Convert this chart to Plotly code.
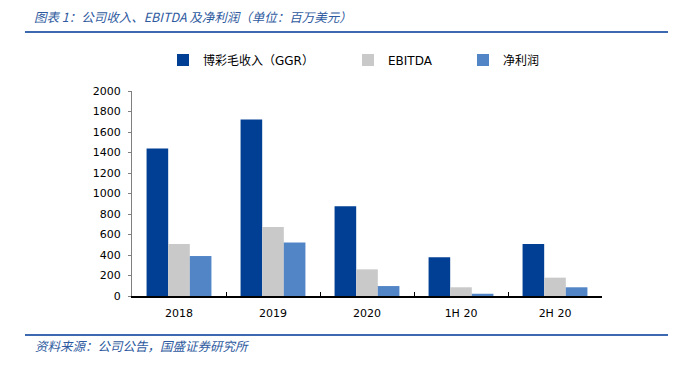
import plotly.graph_objects as go

categories = ["2018", "2019", "2020", "1H 20", "2H 20"]
ggr = [1439, 1722, 875, 378, 507]
ebitda = [507, 673, 260, 85, 179]
net_profit = [390, 522, 97, 22, 85]

series_names = ["博彩毛收入（GGR）", "EBITDA", "净利润"]
colors = ["#003F94", "#C9C9C9", "#5185C6"]

FONT = "DejaVu Sans, Noto Sans CJK SC, sans-serif"
CJK = "Noto Sans CJK SC, sans-serif"

# page offset of the plot div inside the browser window
OFF = 8
# plot area in screen pixels
L, R, T, B = 132, 602, 91, 296
W, H = 697, 373
def px(x):
    return (x - L) / (R - L)
def py(y):
    return (B - y) / (B - T)

fig = go.Figure()
for i, (name, vals, col) in enumerate(zip(series_names, [ggr, ebitda, net_profit], colors)):
    fig.add_trace(go.Bar(
        x=categories, y=vals, name=name, marker=dict(color=col, line=dict(width=0)),
        legend=["legend", "legend2", "legend3"][i],
    ))

leg_common = dict(orientation="h", yanchor="middle", xanchor="left",
                  font=dict(family=FONT, size=12, color="#000000"),
                  bgcolor="rgba(0,0,0,0)", itemwidth=30, y=py(60))

fig.update_layout(
    width=W, height=H,
    margin=dict(l=L - OFF, r=W - R + OFF, t=T - OFF, b=H - B + OFF, pad=0),
    paper_bgcolor="white", plot_bgcolor="white",
    barmode="group", bargap=0.31, bargroupgap=0,
    showlegend=True,
    legend=dict(**leg_common, x=px(163)),
    legend2=dict(**leg_common, x=px(348)),
    legend3=dict(**leg_common, x=px(463)),
    xaxis=dict(
        type="category", showline=True, linecolor="#000000", linewidth=1.5,
        ticks="inside", tickson="boundaries", ticklen=4, tickcolor="#000000",
        tickfont=dict(family=FONT, size=11, color="#000000"),
        ticklabelstandoff=6,
        showgrid=False, zeroline=False, range=[-0.5, 4.5],
    ),
    yaxis=dict(
        range=[0, 2000], dtick=200, showline=True, linecolor="#7f7f7f", linewidth=1,
        ticks="outside", ticklen=3, tickcolor="#7f7f7f",
        tickfont=dict(family=FONT, size=11, color="#000000"),
        ticklabelstandoff=5,
        showgrid=False, zeroline=False,
    ),
    shapes=[
        dict(type="line", xref="paper", yref="paper", x0=px(25), x1=px(668),
             y0=py(32), y1=py(32), line=dict(color="#3C69B0", width=2)),
        dict(type="line", xref="paper", yref="paper", x0=px(25), x1=px(668),
             y0=py(335), y1=py(335), line=dict(color="#3C69B0", width=2)),
    ],
    annotations=[
        dict(text="<i>图表 1：公司收入、EBITDA 及净利润（单位：百万美元）</i>",
             xref="paper", yref="paper", x=px(32), y=py(17), xanchor="left", yanchor="middle",
             showarrow=False, font=dict(family=CJK, size=12.5, color="#2E5AA0")),
        dict(text="<i>资料来源：公司公告，国盛证券研究所</i>",
             xref="paper", yref="paper", x=px(33), y=py(345), xanchor="left", yanchor="middle",
             showarrow=False, font=dict(family=CJK, size=12.5, color="#2E5AA0")),
    ],
)

fig.write_html("out.html")
